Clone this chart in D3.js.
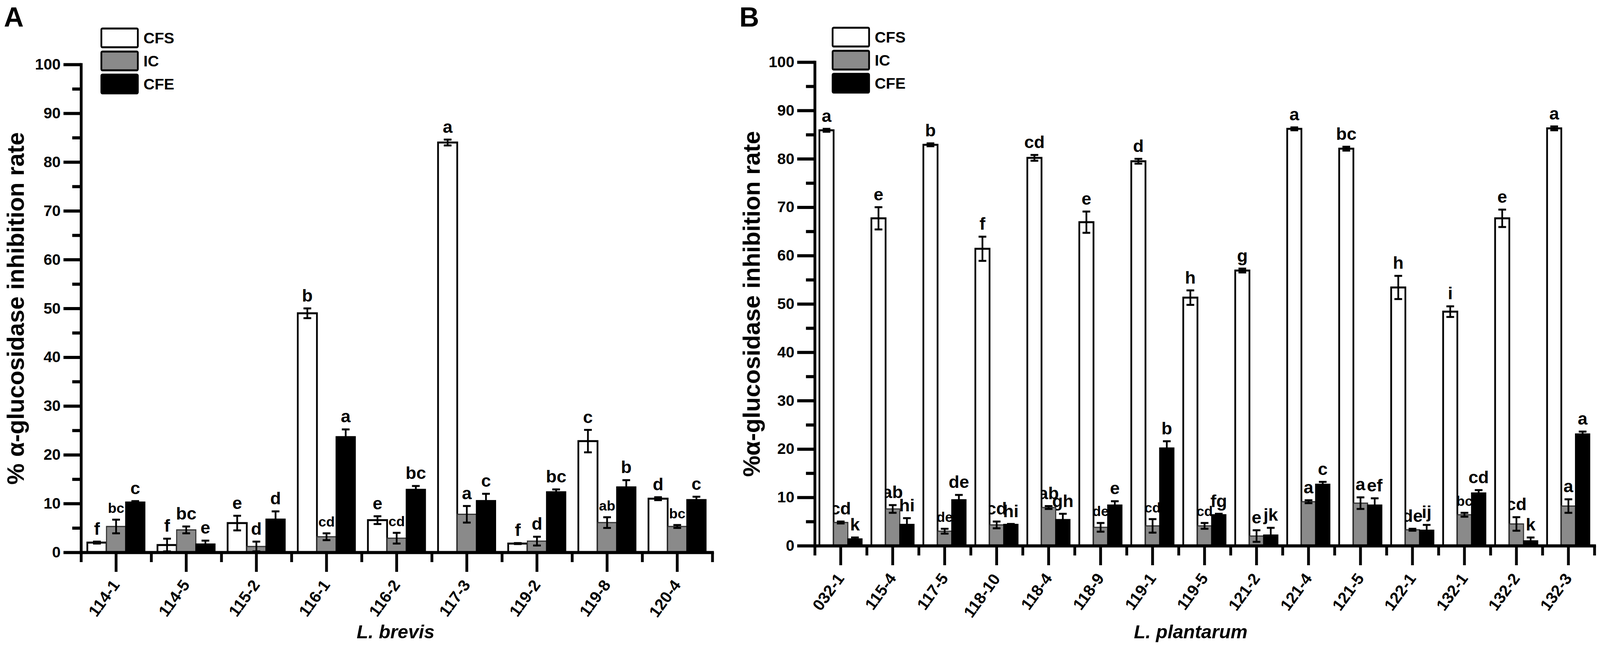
<!DOCTYPE html>
<html>
<head>
<meta charset="utf-8">
<script src="https://cdn.jsdelivr.net/npm/d3@7/dist/d3.min.js"></script>
<style>
  html, body { margin: 0; padding: 0; background: #ffffff; overflow: hidden; width: 100%; height: 100%; }
  svg { display: block; width: 100vw; height: 100vh; }
  text { font-family: "Liberation Sans", Arial, Helvetica, sans-serif; font-weight: bold; }
</style>
</head>
<body>
<svg id="chart" viewBox="0 0 4562 1664" preserveAspectRatio="none"></svg>
<script>
// ---------------- DATA ----------------
const seriesNames = ["CFS", "IC", "CFE"];

// Panel A : L. brevis
const catsA = ["114-1", "114-5", "115-2", "116-1", "116-2", "117-3", "119-2", "119-8", "120-4"];
const cfsA    = [2.0, 1.5, 6.0, 49.0, 6.6, 84.0, 1.8, 22.8, 11.0];
const cfsErrA = [0.2, 1.3, 1.5, 1.0, 0.8, 0.6, 0.1, 2.3, 0.3];
const icA     = [5.3, 4.6, 1.2, 3.2, 2.9, 7.8, 2.3, 6.1, 5.3];
const icErrA  = [1.4, 0.7, 1.0, 0.7, 1.1, 1.7, 0.9, 1.1, 0.3];
const cfeA    = [10.3, 1.7, 6.8, 23.7, 12.9, 10.6, 12.4, 13.4, 10.8];
const cfeErrA = [0.2, 0.7, 1.6, 1.5, 0.7, 1.4, 0.5, 1.4, 0.6];
const cfsLetA = ["f", "f", "e", "b", "e", "a", "f", "c", "d"];
const icLetA  = ["bc", "bc", "d", "cd", "cd", "a", "d", "ab", "bc"];
const cfeLetA = ["c", "e", "d", "a", "bc", "c", "bc", "b", "c"];

// Panel B : L. plantarum
const catsB = ["032-1", "115-4", "117-5", "118-10", "118-4", "118-9", "119-1", "119-5",
               "121-2", "121-4", "121-5", "122-1", "132-1", "132-2", "132-3"];
const cfsB    = [85.9, 67.7, 82.9, 61.4, 80.2, 66.9, 79.5, 51.3, 56.9, 86.2, 82.1, 53.4, 48.4, 67.7, 86.3];
const cfsErrB = [0.3, 2.3, 0.3, 2.5, 0.6, 2.2, 0.5, 1.5, 0.4, 0.3, 0.4, 2.4, 1.1, 1.8, 0.4];
const icB     = [4.8, 7.6, 3.0, 4.3, 7.9, 3.8, 4.1, 4.1, 2.0, 9.1, 8.8, 3.3, 6.4, 4.5, 8.2];
const icErrB  = [0.2, 0.8, 0.5, 0.7, 0.3, 0.9, 1.4, 0.6, 1.2, 0.3, 1.2, 0.2, 0.4, 1.4, 1.4];
const cfeB    = [1.4, 4.4, 9.5, 4.4, 5.4, 8.4, 20.2, 6.4, 2.2, 12.7, 8.4, 3.2, 10.9, 1.0, 23.1];
const cfeErrB = [0.3, 1.3, 1.0, 0.1, 1.2, 0.8, 1.4, 0.2, 1.5, 0.5, 1.4, 1.1, 0.6, 0.7, 0.5];
const cfsLetB = ["a", "e", "b", "f", "cd", "e", "d", "h", "g", "a", "bc", "h", "i", "e", "a"];
const icLetB  = ["cd", "ab", "de", "cd", "ab", "de", "cd", "cd", "e", "a", "a", "de", "bc", "cd", "a"];
const cfeLetB = ["k", "hi", "de", "hi", "gh", "e", "b", "fg", "jk", "c", "ef", "ij", "cd", "k", "a"];

const yMajorTicks = [0, 10, 20, 30, 40, 50, 60, 70, 80, 90, 100];
const yMinorTicks = [5, 15, 25, 35, 45, 55, 65, 75, 85, 95];

// ---------------- STYLE ----------------
const fills   = ["#ffffff", "#8a8a8a", "#000000"];
const strokes = ["#000000", "#333333", "#000000"];
const strokeW = [5, 3, 3];

const svg = d3.select("#chart");

const panels = [
  { tag: "A", tagX: 11, cats: catsA,
    vals: [cfsA, icA, cfeA], errs: [cfsErrA, icErrA, cfeErrA], lets: [cfsLetA, icLetA, cfeLetA],
    xRange: [231, 2031], y0: 1414, y100: 165,
    yTitle: "% \u03b1-glucosidase inhibition rate", yTitleX: 44,
    xTitle: "L. brevis", xTitleX: 1128, legendX: 289, legendY: 73 },
  { tag: "B", tagX: 2108, cats: catsB,
    vals: [cfsB, icB, cfeB], errs: [cfsErrB, icErrB, cfeErrB], lets: [cfsLetB, icLetB, cfeLetB],
    xRange: [2323, 4546], y0: 1397, y100: 159,
    yTitle: "%\u03b1-glucosidase inhibition rate", yTitleX: 2142,
    xTitle: "L. plantarum", xTitleX: 3395, legendX: 2374, legendY: 71 }
];

panels.forEach(drawPanel);
undistortText();

function drawPanel(cfg) {
  const g = svg.append("g");
  const x0 = d3.scaleBand().domain(cfg.cats).range(cfg.xRange).padding(0);
  const bw = x0.bandwidth();
  const x1 = d3.scaleBand().domain(seriesNames).range([bw * 0.09, bw * 0.91]).padding(0);
  const y = d3.scaleLinear().domain([0, 100]).range([cfg.y0, cfg.y100]);
  const barW = x1.bandwidth();

  const rows = [];
  cfg.cats.forEach((c, i) => {
    seriesNames.forEach((s, k) => {
      rows.push({ cat: c, i, k, s, v: cfg.vals[k][i], e: cfg.errs[k][i], l: cfg.lets[k][i] });
    });
  });

  // significance letters (drawn beneath bars as in the original)
  g.append("g").selectAll("text").data(rows).join("text")
    .attr("x", d => x0(d.cat) + x1(d.s) + barW / 2)
    .attr("y", d => y(d.v + d.e) - 16)
    .attr("text-anchor", "middle")
    .attr("font-size", d => {
      if (d.k < 2 && d.l.length > 1) {
        const nv = cfg.vals[d.k + 1][d.i] + cfg.errs[d.k + 1][d.i];
        if (y(nv) < y(d.v + d.e) - 20) return 40;
      }
      return 50;
    })
    .text(d => d.l);

  // bars
  g.append("g").selectAll("rect").data(rows).join("rect")
    .attr("x", d => x0(d.cat) + x1(d.s))
    .attr("y", d => y(d.v))
    .attr("width", barW)
    .attr("height", d => y(0) - y(d.v))
    .attr("fill", d => fills[d.k])
    .attr("stroke", d => strokes[d.k])
    .attr("stroke-width", d => strokeW[d.k]);

  // error bars
  const eb = g.append("g").attr("stroke", "#000").attr("stroke-width", 5).attr("fill", "none");
  const capW = 22;
  rows.forEach(d => {
    const cx = x0(d.cat) + x1(d.s) + barW / 2;
    const yt = y(d.v + d.e), yb = y(Math.max(0, d.v - d.e));
    eb.append("line").attr("x1", cx).attr("x2", cx).attr("y1", yt).attr("y2", yb);
    eb.append("line").attr("x1", cx - capW / 2).attr("x2", cx + capW / 2).attr("y1", yt).attr("y2", yt);
    eb.append("line").attr("x1", cx - capW / 2).attr("x2", cx + capW / 2).attr("y1", yb).attr("y2", yb);
  });

  // y axis
  const ya = g.append("g").attr("transform", `translate(${cfg.xRange[0]},0)`)
    .call(d3.axisLeft(y).tickValues(yMajorTicks).tickSize(50).tickSizeOuter(0).tickPadding(8).tickFormat(d3.format("d")));
  ya.select(".domain").attr("stroke-width", 8).attr("stroke-linecap", "square");
  ya.selectAll(".tick line").attr("stroke-width", 8);
  ya.selectAll(".tick text").attr("font-size", 44).attr("font-family", "Liberation Sans, Arial, sans-serif").attr("font-weight", "bold").attr("fill", "#000");

  const ym = g.append("g").attr("transform", `translate(${cfg.xRange[0]},0)`)
    .call(d3.axisLeft(y).tickValues(yMinorTicks).tickSize(25).tickSizeOuter(0).tickFormat(""));
  ym.select(".domain").remove();
  ym.selectAll(".tick line").attr("stroke-width", 8);

  // x axis
  const xa = g.append("g").attr("transform", `translate(0,${cfg.y0})`)
    .call(d3.axisBottom(x0).tickSize(50).tickSizeOuter(0).tickPadding(0));
  xa.select(".domain").attr("stroke-width", 8).attr("stroke-linecap", "square");
  xa.selectAll(".tick line").attr("stroke-width", 8);
  xa.selectAll(".tick text")
    .attr("font-size", 46).attr("font-family", "Liberation Sans, Arial, sans-serif").attr("font-weight", "bold").attr("fill", "#000")
    .attr("text-anchor", "end")
    .attr("dy", null)
    .attr("y", null)
    .attr("transform", "translate(12,80) rotate(-54)");

  const xEdge = d3.scaleLinear().domain([0, cfg.cats.length]).range(cfg.xRange);
  const xe = g.append("g").attr("transform", `translate(0,${cfg.y0})`)
    .call(d3.axisBottom(xEdge).tickValues(d3.range(cfg.cats.length + 1)).tickSize(25).tickSizeOuter(0).tickFormat(""));
  xe.select(".domain").remove();
  xe.selectAll(".tick line").attr("stroke-width", 8);

  // axis titles
  g.append("text")
    .attr("transform", `translate(${cfg.yTitleX},${(cfg.y0 + cfg.y100) / 2}) rotate(-90)`)
    .attr("text-anchor", "middle")
    .attr("dy", "0.35em")
    .attr("font-size", 68)
    .text(cfg.yTitle);

  g.append("text")
    .attr("x", cfg.xTitleX).attr("y", 1636)
    .attr("text-anchor", "middle")
    .attr("font-size", 54)
    .attr("font-style", "italic")
    .text(cfg.xTitle);

  // panel tag
  g.append("text").attr("x", cfg.tagX).attr("y", 71).attr("font-size", 78).text(cfg.tag);

  // legend
  const lg = g.append("g");
  seriesNames.forEach((s, k) => {
    const ly = cfg.legendY + k * 59;
    lg.append("rect").attr("x", cfg.legendX).attr("y", ly).attr("width", 104).attr("height", 48)
      .attr("rx", 3).attr("fill", fills[k]).attr("stroke", "#000").attr("stroke-width", 5);
    lg.append("text").attr("x", cfg.legendX + 120).attr("y", ly + 40).attr("font-size", 44).text(s);
  });
}

// The chart fills the window; keep glyphs undistorted if the window's aspect differs.
function undistortText() {
  const vw = window.innerWidth, vh = window.innerHeight;
  if (!vw || !vh) return;
  const k = (vh / 1664) / (vw / 4562);
  if (Math.abs(k - 1) < 0.005) return;
  svg.selectAll("text").each(function () {
    const bb = this.getBBox();
    let cx = bb.x + bb.width / 2, cy = bb.y + bb.height / 2;
    const tl = this.transform.baseVal.consolidate();
    if (tl) {
      const m = tl.matrix;
      const nx = m.a * cx + m.c * cy + m.e, ny = m.b * cx + m.d * cy + m.f;
      cx = nx; cy = ny;
    }
    const old = this.getAttribute("transform") || "";
    this.setAttribute("transform",
      `translate(${cx},${cy}) scale(1,${1 / k}) translate(${-cx},${-cy}) ${old}`);
  });
}
</script>
</body>
</html>
